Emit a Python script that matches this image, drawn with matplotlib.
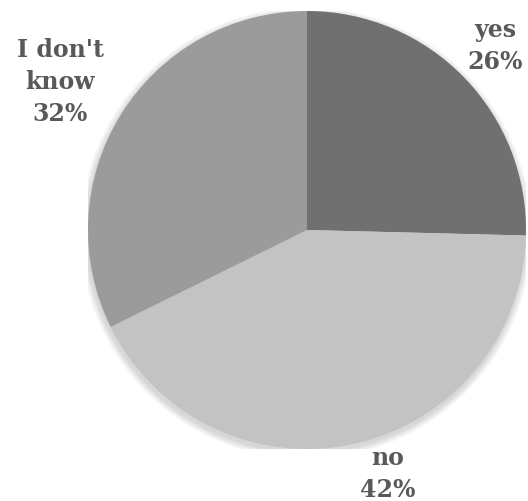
import matplotlib
matplotlib.use("Agg")
import matplotlib.pyplot as plt
from matplotlib.patches import Circle

# Podaci (udeli procenjeni sa slike, natpisi kako su prikazani)
labels = ["yes", "no", "I don't\nknow"]
values = [25.4, 42.3, 32.3]
pct_labels = ["26%", "42%", "32%"]
colors = ["#707070", "#c3c3c3", "#9b9b9b"]

# pozicije natpisa (u koordinatama pite, poluprecnik = 1)
label_pos = [(0.86, 0.845), (0.37, -1.11), (-1.128, 0.68)]

fig = plt.figure(figsize=(5.28, 5.02), dpi=100)
r_px = 219
ax = fig.add_axes([(307 - r_px) / 528, (502 - 231 - r_px) / 502,
                   2 * r_px / 528, 2 * r_px / 502])

# blaga senka oko pite
for k in range(8):
    ax.add_patch(Circle((-0.004, -0.014), 1 + 0.004 * (k + 1), color="black",
                        alpha=0.02, linewidth=0, zorder=0))

ax.pie(values, colors=colors, startangle=90, counterclock=False,
       radius=1, wedgeprops=dict(linewidth=0, zorder=2))
ax.set_xlim(-1, 1)
ax.set_ylim(-1, 1)
ax.set_aspect("equal")
ax.axis("off")

for lab, pct, (x, y) in zip(labels, pct_labels, label_pos):
    ax.text(x, y, f"{lab}\n{pct}", ha="center", va="center",
            fontsize=17, fontweight="bold", family="DejaVu Serif",
            color="#595959", linespacing=1.4, clip_on=False)

fig.savefig("out.png", dpi=100)
